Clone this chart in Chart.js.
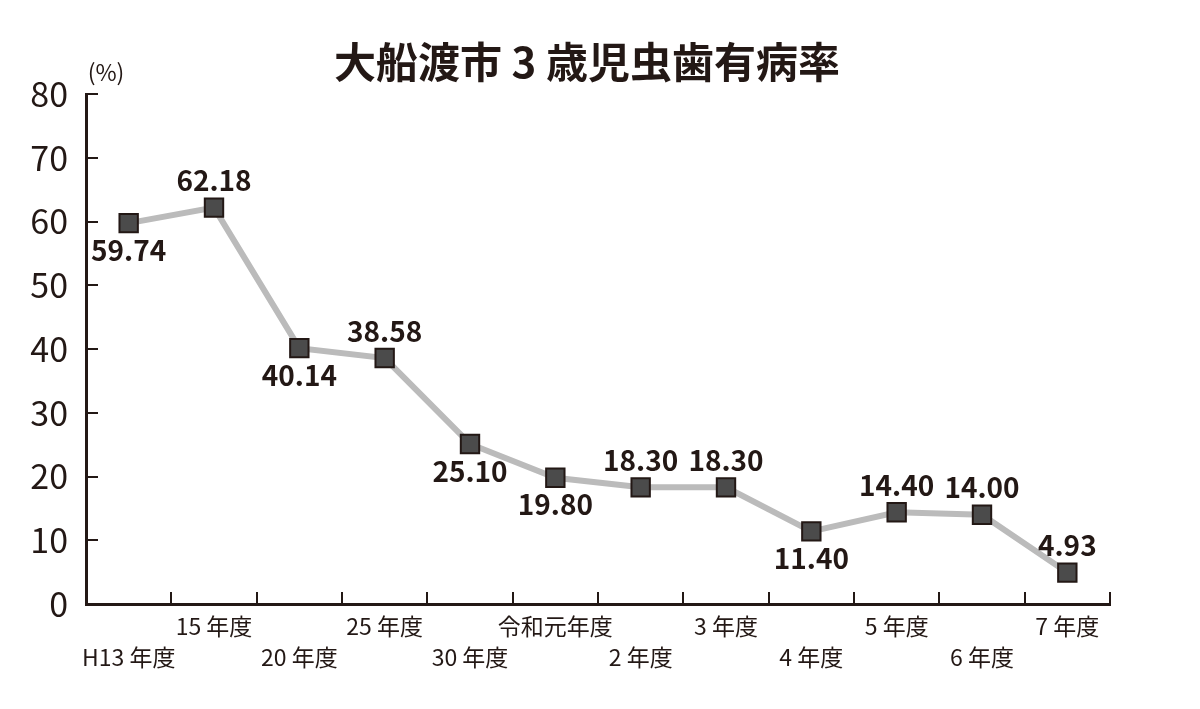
<!DOCTYPE html>
<html lang="ja">
<head>
<meta charset="utf-8">
<title>大船渡市 3 歳児虫歯有病率</title>
<script src="https://cdn.jsdelivr.net/npm/chart.js@4/dist/chart.umd.min.js"></script>
<style>
  html, body { margin: 0; padding: 0; background: #fff; }
  #wrap { width: 1200px; height: 709px; position: relative; }
</style>
</head>
<body>
<div id="wrap"><canvas id="chart"></canvas></div>
<script>
const years = ["H13 年度", "15 年度", "20 年度", "25 年度", "30 年度", "令和元年度",
               "2 年度", "3 年度", "4 年度", "5 年度", "6 年度", "7 年度"];
const rates = [59.74, 62.18, 40.14, 38.58, 25.10, 19.80, 18.30, 18.30, 11.40, 14.40, 14.00, 4.93];
const labelSide = ["below", "above", "below", "above", "below", "below",
                   "above", "above", "below", "above", "above", "above"];
const yTicks = [0, 10, 20, 30, 40, 50, 60, 70, 80];

const INK = "#231815";
const FONT = "'Noto Sans CJK JP', 'Noto Sans', sans-serif";

// title, unit and value labels
const annotate = {
  id: "annotate",
  afterDraw(chart) {
    const ctx = chart.ctx;
    const meta = chart.getDatasetMeta(0);
    const yScale = chart.scales.y;
    ctx.save();
    ctx.fillStyle = INK;
    ctx.textAlign = "center";
    ctx.textBaseline = "middle";

    ctx.font = "bold 42px " + FONT;
    ctx.fillText("大船渡市 3 歳児虫歯有病率", 587, 62);

    ctx.font = "23px " + FONT;
    ctx.fillText("(%)", yScale.right + 20, yScale.top - 22);

    ctx.font = "bold 28px " + FONT;
    meta.data.forEach((pt, i) => {
      const dy = labelSide[i] === "below" ? 27 : -27;
      ctx.fillText(rates[i].toFixed(2), pt.x, pt.y + dy);
    });
    ctx.restore();
  }
};

new Chart(document.getElementById("chart"), {
  type: "line",
  data: {
    labels: years.map((y, i) => (i % 2 === 0 ? ["", y] : [y])),
    datasets: [{
      data: rates,
      borderColor: "#bbbbbb",
      borderWidth: 6,
      tension: 0,
      pointStyle: "rect",
      pointRadius: 13,
      pointHoverRadius: 13,
      pointBackgroundColor: "#4b4b4b",
      pointBorderColor: INK,
      pointBorderWidth: 2
    }]
  },
  options: {
    responsive: true,
    maintainAspectRatio: false,
    animation: false,
    events: [],
    layout: { padding: { top: 94, right: 90, left: 0, bottom: 0 } },
    plugins: {
      legend: { display: false },
      tooltip: { enabled: false }
    },
    scales: {
      x: {
        offset: true,
        grid: {
          offset: true,
          drawOnChartArea: false,
          tickLength: -12,
          color: INK,
          lineWidth: 2
        },
        border: { display: true, color: INK, width: 3 },
        ticks: {
          autoSkip: false,
          maxRotation: 0,
          padding: 18,
          color: INK,
          font: { family: FONT, size: 23, lineHeight: 1.38 }
        },
        afterFit(scale) { scale.height = 105; }
      },
      y: {
        min: 0,
        max: 80,
        afterBuildTicks(scale) { scale.ticks = yTicks.map(v => ({ value: v })); },
        grid: {
          drawOnChartArea: false,
          tickLength: -12,
          color: INK,
          lineWidth: 2
        },
        border: { display: true, color: INK, width: 3 },
        ticks: {
          padding: 30,
          color: INK,
          font: { family: FONT, size: 34 }
        },
        afterFit(scale) { scale.width = 86; }
      }
    }
  },
  plugins: [annotate]
});
</script>
</body>
</html>
